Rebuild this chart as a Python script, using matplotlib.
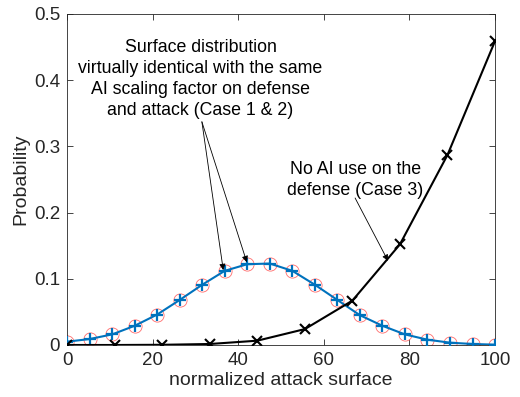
import numpy as np
import matplotlib.pyplot as plt

plt.rcParams['font.family'] = ['Liberation Sans', 'DejaVu Sans']

# Case 1 & 2: surface distribution (20 points)
x_ai = np.linspace(0, 100, 20)
p_case1 = [0.005, 0.009, 0.016, 0.029, 0.046, 0.068, 0.091, 0.112, 0.122, 0.123,
           0.112, 0.091, 0.068, 0.045, 0.029, 0.016, 0.008, 0.0035, 0.0015, 0.0005]
p_case2 = p_case1

# Case 3: no AI on the defense (10 points)
x_noai = np.linspace(0, 100, 10)
p_case3 = [0.0, 0.0, 0.0003, 0.0015, 0.0065, 0.024, 0.067, 0.152, 0.287, 0.459]

fig = plt.figure(figsize=(5.2, 3.97), dpi=100)
ax = fig.add_axes([0.129, 0.131, 0.823, 0.834])

dark = '#262626'

ax.plot(x_ai, p_case2, 'o', color='#ff6a6a', mfc='none', ms=9.5, mew=0.6, zorder=2)
ax.plot(x_ai, p_case1, '-+', color='#0072bd', lw=1.5, ms=8, mew=1.6, zorder=3)
ax.plot(x_noai, p_case3, '-x', color='black', lw=1.5, ms=7, mew=1.5, zorder=4)

ax.set_xlim(0, 100)
ax.set_ylim(0, 0.5)
ax.set_xticks([0, 20, 40, 60, 80, 100])
ax.set_yticks([0, 0.1, 0.2, 0.3, 0.4, 0.5])
ax.set_yticklabels(['0', '0.1', '0.2', '0.3', '0.4', '0.5'])
ax.tick_params(direction='in', length=4, width=0.6, top=True, right=True,
               labelsize=13.5, colors=dark, pad=5)
for s in ax.spines.values():
    s.set_color(dark)
    s.set_linewidth(0.6)

ax.set_xlabel('normalized attack surface', fontsize=14, color=dark, labelpad=2)
ax.set_ylabel('Probability', fontsize=14, color=dark, labelpad=3)

ax.text(31.2, 0.462,
        'Surface distribution\nvirtually identical with the same\n'
        'AI scaling factor on defense\nand attack (Case 1 & 2)',
        ha='center', va='top', fontsize=12.8, linespacing=1.3)
ax.text(67.3, 0.221, 'No AI use on the\ndefense (Case 3)',
        ha='center', va='bottom', fontsize=12.8, linespacing=1.3)

arrow = dict(arrowstyle='-|>', color='black', lw=0.6, mutation_scale=9,
             shrinkA=0, shrinkB=0)
ax.annotate('', xy=(36.5, 0.113), xytext=(31.5, 0.337), arrowprops=arrow)
ax.annotate('', xy=(42.0, 0.125), xytext=(31.5, 0.337), arrowprops=arrow)
ax.annotate('', xy=(75.0, 0.127), xytext=(67.3, 0.222), arrowprops=arrow)

fig.savefig('out.png', dpi=100)
